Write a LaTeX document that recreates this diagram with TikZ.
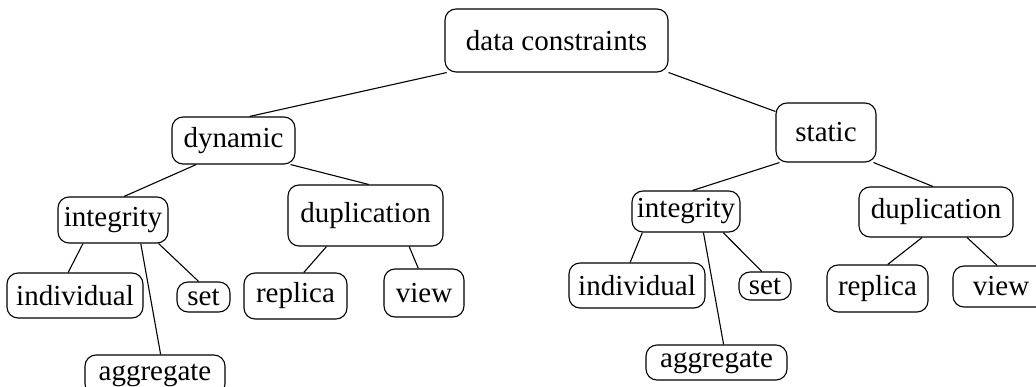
\documentclass[tikz,border=0pt]{standalone}
\usepackage{fontspec}
\setmainfont{Liberation Serif}
\usetikzlibrary{calc}

\tikzset{
  box/.style={draw, rounded corners=11pt, inner sep=0pt, line width=1.1pt,
    font=\fontsize{29}{31}\selectfont},
  link/.style={line width=1.1pt}
}

\begin{document}
\begin{tikzpicture}[x=1pt, y=-1pt]

\useasboundingbox (0,0) rectangle (1036,387);
\clip (0,0) rectangle (1036,387);

% Root
\node[box, minimum width=223pt, minimum height=63pt] (root) at (556.5,40.5) {data constraints};

% ---------- left branch ----------
\node[box, minimum width=123pt, minimum height=47pt] (dyn) at (233.5,140.5) {dynamic};

\node[box, minimum width=110pt, minimum height=46pt] (intL) at (113,220) {integrity};
\node[box, minimum width=155pt, minimum height=61pt] (dupL) at (365.5,215.5) {duplication};

\node[box, minimum width=136pt, minimum height=45pt] (indL) at (75,295.5) {individual};
\node[box, minimum width=53pt, minimum height=30pt] (setL) at (203.5,297) {set};
\node[box, minimum width=140pt, minimum height=40pt] (aggL) at (155,375) {aggregate};
\node[box, minimum width=103pt, minimum height=46pt] (repL) at (295.5,296) {replica};
\node[box, minimum width=80pt, minimum height=48pt] (viewL) at (424,293) {view};

% ---------- right branch ----------
\node[box, minimum width=100pt, minimum height=59pt] (stat) at (826,132.5) {static};

\node[box, minimum width=108pt, minimum height=41pt] (intR) at (686,211.5) {integrity};
\node[box, minimum width=154pt, minimum height=50pt] (dupR) at (936,212) {duplication};

\node[box, minimum width=136pt, minimum height=45pt] (indR) at (637,285.5) {individual};
\node[box, minimum width=52pt, minimum height=28pt] (setR) at (765,286) {set};
\node[box, minimum width=141pt, minimum height=35pt] (aggR) at (716.5,362.5) {aggregate};
\node[box, minimum width=101pt, minimum height=47pt] (repR) at (877.5,288.5) {replica};
\node[box, minimum width=96pt, minimum height=41pt] (viewR) at (1001,286.5) {view};

% Connectors: parent bottom edge -> child top edge
\foreach \p/\fp/\c/\fc in {root/0.01/dyn/0.63, dyn/0.2/intL/0.6, dyn/0.96/dupL/0.52,
    intL/0.23/indL/0.45, intL/0.75/aggL/0.54, intL/0.91/setL/0.41,
    dupL/0.25/repL/0.58, dupL/0.78/viewL/0.43,
    stat/0.04/intR/0.56, stat/0.97/dupR/0.48,
    intR/0.1/indR/0.45, intR/0.66/aggR/0.55, intR/0.84/setR/0.44,
    dupR/0.41/repR/0.6, dupR/0.7/viewR/0.46}
  \draw[link] ($(\p.south west)!\fp!(\p.south east)$) -- ($(\c.north west)!\fc!(\c.north east)$);

\draw[link] (root.south east) -- ($(stat.north west)!0.15!(stat.south west)$);

\end{tikzpicture}
\end{document}
